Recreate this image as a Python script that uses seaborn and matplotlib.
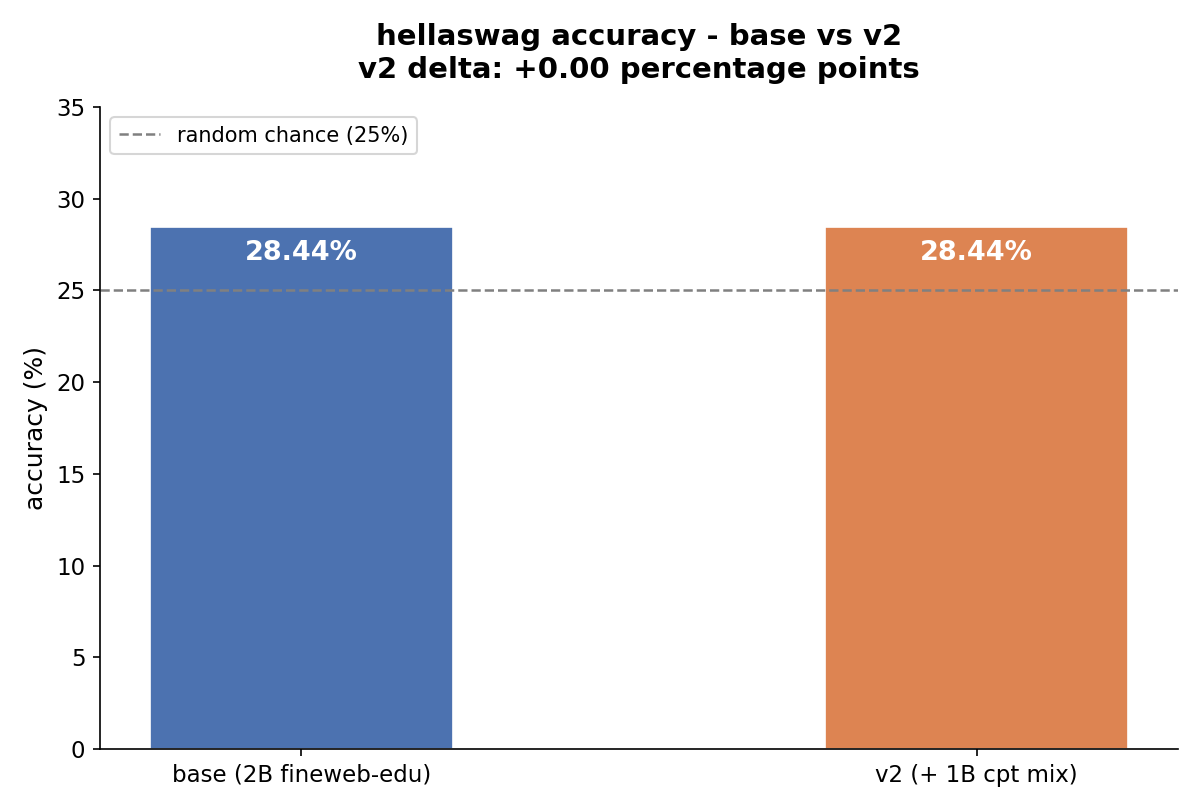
import matplotlib
matplotlib.use("Agg")
import matplotlib.pyplot as plt
import seaborn as sns
import pandas as pd

models = ["base (2B fineweb-edu)", "v2 (+ 1B cpt mix)"]
accuracy = [28.44, 28.44]
bar_colors = ["#4C72B0", "#DD8452"]
chance = 25.0

sns.set_theme(style="ticks", context="notebook", rc={
    "text.color": "black",
    "axes.labelcolor": "black",
    "axes.edgecolor": "black",
    "axes.linewidth": 0.8,
    "xtick.color": "black",
    "ytick.color": "black",
    "xtick.major.width": 0.8,
    "ytick.major.width": 0.8,
    "xtick.major.size": 3.5,
    "ytick.major.size": 3.5,
})
plt.rcParams['font.family'] = ['DejaVu Sans']

df = pd.DataFrame({"model": models, "accuracy": accuracy})
delta = accuracy[1] - accuracy[0]

fig, ax = plt.subplots(figsize=(8, 5.4), dpi=150)
sns.barplot(data=df, x="model", y="accuracy", hue="model", palette=bar_colors,
            width=0.45, saturation=1, edgecolor="white", linewidth=0.8,
            legend=False, ax=ax)
ax.axhline(chance, color="gray", linestyle="--", linewidth=1.2,
           label="random chance (25%)")

for i, val in enumerate(accuracy):
    ax.text(i, val - 0.7, f"{val:.2f}%", ha="center", va="top",
            color="white", fontweight="bold", fontsize=13)

ax.set_xlim(-0.2985, 1.2985)
ax.set_ylim(0, 35)
ax.set_xlabel("")
ax.set_ylabel("accuracy (%)", fontsize=12)
ax.set_title(f"hellaswag accuracy - base vs v2\nv2 delta: {delta:+.2f} percentage points",
             fontsize=14, fontweight="bold", pad=14)
ax.legend(loc="upper left", fontsize=10)
sns.despine()
fig.subplots_adjust(left=0.0833, right=0.9817, top=0.868, bottom=0.0753)
plt.savefig("out.png", dpi=150)
